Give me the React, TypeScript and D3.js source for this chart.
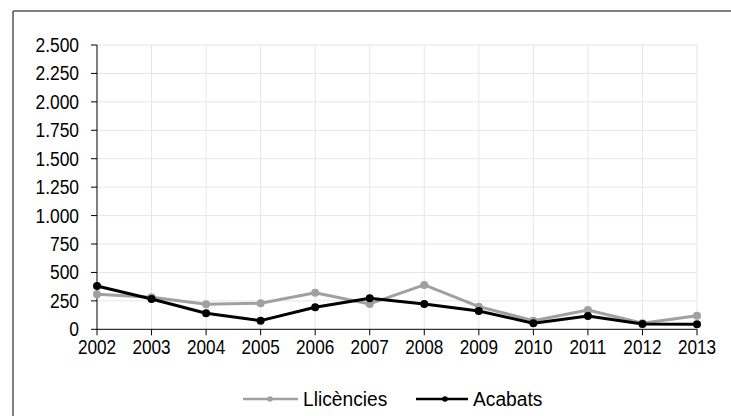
import React from "react";
import * as d3 from "d3";

const years = ["2002","2003","2004","2005","2006","2007","2008","2009","2010","2011","2012","2013"];
const llicencies = [308, 282, 220, 229, 322, 223, 390, 199, 76, 170, 53, 120];
const acabats = [381, 267, 141, 76, 194, 273, 223, 161, 53, 117, 47, 44];
const yTicks = [0, 250, 500, 750, 1000, 1250, 1500, 1750, 2000, 2250, 2500];
const seriesNames = ["Llicències", "Acabats"];
const seriesColors = ["#a0a0a0", "#000000"];

const W = 731, H = 416;
const FONT = "'Liberation Sans', Arial, sans-serif";

function fmt(v: number) {
  return d3.format(",")(v).replace(/,/g, ".");
}

function NText(props: { x: number; y: number; sx: number; anchor?: string; dy?: string; children: React.ReactNode }) {
  return (
    <text
      transform={`translate(${props.x},${props.y}) scale(${props.sx},1)`}
      dy={props.dy}
      textAnchor={props.anchor || "start"}
      fontFamily={FONT}
      fontSize={20}
      fill="#000"
    >
      {props.children}
    </text>
  );
}

export default function App() {
  const x = d3.scalePoint<string>().domain(years).range([97, 697]);
  const y = d3.scaleLinear().domain([0, 2500]).range([329.3, 45]);
  const line = d3.line<number>().x((_, i) => x(years[i])!).y((d) => y(d));
  const series = [llicencies, acabats];
  const legendItems = [
    { lx1: 243, lx2: 298, mx: 270, tx: 303 },
    { lx1: 416, lx2: 468, mx: 445, tx: 473 },
  ];
  const ly = 399;
  return (
    <svg width={W} height={H} style={{ position: "absolute", left: 0, top: 0, background: "#fff" }}>
      <rect x={0} y={0} width={W} height={H} fill="#fff" />
      <line x1={13} y1={11} x2={W} y2={11} stroke="#555" strokeWidth={1.5} />
      <line x1={13} y1={11} x2={13} y2={H} stroke="#555" strokeWidth={1.5} />
      {yTicks.filter((t) => t > 0).map((t) => (
        <line key={"gy" + t} x1={97} x2={697} y1={y(t)} y2={y(t)} stroke="#e6e6e6" strokeWidth={1} />
      ))}
      {years.slice(1).map((yr) => (
        <line key={"gx" + yr} x1={x(yr)} x2={x(yr)} y1={y(2500)} y2={y(0)} stroke="#e6e6e6" strokeWidth={1} />
      ))}
      <line x1={97} x2={97} y1={y(2500)} y2={y(0)} stroke="#000" strokeWidth={1} />
      <line x1={97} x2={697} y1={y(0)} y2={y(0)} stroke="#000" strokeWidth={1} />
      {yTicks.map((t) => (
        <g key={"yt" + t}>
          <line x1={91} x2={97} y1={y(t)} y2={y(t)} stroke="#000" strokeWidth={1} />
          <NText x={79} y={y(t)} sx={0.87} dy="0.35em" anchor="end">{fmt(t)}</NText>
        </g>
      ))}
      {years.map((yr) => (
        <g key={"xt" + yr}>
          <line x1={x(yr)} x2={x(yr)} y1={y(0)} y2={y(0) + 6} stroke="#000" strokeWidth={1} />
          <NText x={x(yr)!} y={354} sx={0.86} anchor="middle">{yr}</NText>
        </g>
      ))}
      {series.map((s, si) => (
        <g key={"s" + si}>
          <path d={line(s)!} fill="none" stroke={seriesColors[si]} strokeWidth={3} strokeLinejoin="round" />
          {s.map((v, i) => (
            <circle key={i} cx={x(years[i])} cy={y(v)} r={4} fill={seriesColors[si]} />
          ))}
        </g>
      ))}
      {legendItems.map((it, i) => (
        <g key={"lg" + i}>
          <line x1={it.lx1} x2={it.lx2} y1={ly} y2={ly} stroke={seriesColors[i]} strokeWidth={2.5} />
          <circle cx={it.mx} cy={ly} r={2.8} fill={seriesColors[i]} />
          <NText x={it.tx} y={ly} sx={0.96} dy="0.35em">{seriesNames[i]}</NText>
        </g>
      ))}
    </svg>
  );
}
